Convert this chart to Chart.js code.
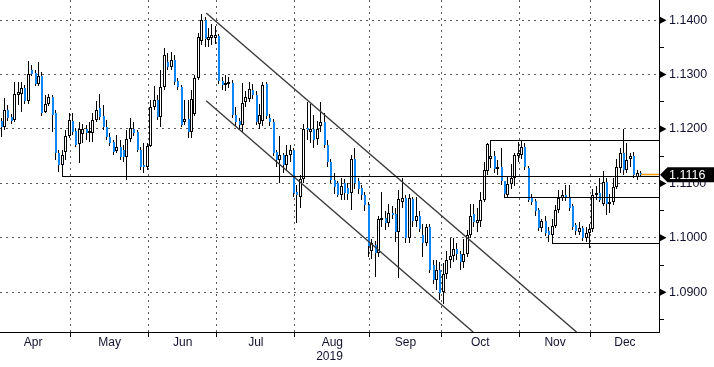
<!DOCTYPE html>
<html><head><meta charset="utf-8">
<script src="https://cdn.jsdelivr.net/npm/chart.js@4.4.1/dist/chart.umd.min.js"></script>
<style>html,body{margin:0;padding:0;background:#fff;}#wrap{width:714px;height:367px;}</style>
</head><body><div id="wrap"><canvas id="c" width="714" height="367"></canvas></div>
<script>
// ---------- DATA (EUR/USD daily, 2019) ----------
const dates = [
'2019-04-02','2019-04-03','2019-04-04','2019-04-05','2019-04-08','2019-04-09','2019-04-10','2019-04-11','2019-04-12','2019-04-15','2019-04-16','2019-04-17','2019-04-18','2019-04-19','2019-04-22','2019-04-23','2019-04-24','2019-04-25','2019-04-26','2019-04-29','2019-04-30',
'2019-05-01','2019-05-02','2019-05-03','2019-05-06','2019-05-07','2019-05-08','2019-05-09','2019-05-10','2019-05-13','2019-05-14','2019-05-15','2019-05-16','2019-05-17','2019-05-20','2019-05-21','2019-05-22','2019-05-23','2019-05-24','2019-05-27','2019-05-28','2019-05-29','2019-05-30','2019-05-31',
'2019-06-03','2019-06-04','2019-06-05','2019-06-06','2019-06-07','2019-06-10','2019-06-11','2019-06-12','2019-06-13','2019-06-14','2019-06-17','2019-06-18','2019-06-19','2019-06-20','2019-06-21','2019-06-24','2019-06-25','2019-06-26','2019-06-27','2019-06-28',
'2019-07-01','2019-07-02','2019-07-03','2019-07-04','2019-07-05','2019-07-08','2019-07-09','2019-07-10','2019-07-11','2019-07-12','2019-07-15','2019-07-16','2019-07-17','2019-07-18','2019-07-19','2019-07-22','2019-07-23','2019-07-24','2019-07-25','2019-07-26','2019-07-29','2019-07-30','2019-07-31',
'2019-08-01','2019-08-02','2019-08-05','2019-08-06','2019-08-07','2019-08-08','2019-08-09','2019-08-12','2019-08-13','2019-08-14','2019-08-15','2019-08-16','2019-08-19','2019-08-20','2019-08-21','2019-08-22','2019-08-23','2019-08-26','2019-08-27','2019-08-28','2019-08-29','2019-08-30',
'2019-09-02','2019-09-03','2019-09-04','2019-09-05','2019-09-06','2019-09-09','2019-09-10','2019-09-11','2019-09-12','2019-09-13','2019-09-16','2019-09-17','2019-09-18','2019-09-19','2019-09-20','2019-09-23','2019-09-24','2019-09-25','2019-09-26','2019-09-27','2019-09-30',
'2019-10-01','2019-10-02','2019-10-03','2019-10-04','2019-10-07','2019-10-08','2019-10-09','2019-10-10','2019-10-11','2019-10-14','2019-10-15','2019-10-16','2019-10-17','2019-10-18','2019-10-21','2019-10-22','2019-10-23','2019-10-24','2019-10-25','2019-10-28','2019-10-29','2019-10-30','2019-10-31',
'2019-11-01','2019-11-04','2019-11-05','2019-11-06','2019-11-07','2019-11-08','2019-11-11','2019-11-12','2019-11-13','2019-11-14','2019-11-15','2019-11-18','2019-11-19','2019-11-20','2019-11-21','2019-11-22','2019-11-25','2019-11-26','2019-11-27','2019-11-28','2019-11-29',
'2019-12-02','2019-12-03','2019-12-04','2019-12-05','2019-12-06','2019-12-09','2019-12-10','2019-12-11','2019-12-12','2019-12-13','2019-12-16','2019-12-17','2019-12-18','2019-12-19','2019-12-20'
];
const open = [
1.1215,1.1203,1.1235,1.1222,1.1217,1.1262,1.1265,1.1276,1.1252,1.1309,1.1303,1.1283,1.1298,1.1231,1.1246,1.1259,1.1230,1.1156,1.1134,1.1158,1.1187,
1.1215,1.1197,1.1173,1.1190,1.1200,1.1193,1.1193,1.1217,1.1239,1.1224,1.1204,1.1186,1.1176,1.1160,1.1167,1.1162,1.1149,1.1182,1.1200,1.1195,1.1162,1.1134,1.1130,
1.1169,1.1240,1.1254,1.1222,1.1277,1.1323,1.1314,1.1327,1.1289,1.1277,1.1213,1.1219,1.1195,1.1228,1.1294,1.1362,1.1400,1.1364,1.1367,1.1368,
1.1370,1.1289,1.1280,1.1282,1.1285,1.1226,1.1215,1.1208,1.1250,1.1256,1.1272,1.1262,1.1210,1.1215,1.1282,1.1220,1.1213,1.1158,1.1143,1.1152,1.1134,1.1152,1.1162,
1.1085,1.1075,1.1108,1.1202,1.1195,1.1200,1.1181,1.1205,1.1213,1.1171,1.1139,1.1106,1.1100,1.1079,1.1100,1.1092,1.1082,1.1145,1.1104,1.1091,1.1078,1.1060,
1.0975,1.0987,1.0972,1.1033,1.1036,1.1028,1.1046,1.1043,1.1010,1.1065,1.1073,1.1000,1.1072,1.1031,1.1041,1.1005,1.0991,1.1020,1.0950,1.0922,1.0940,
1.0901,1.0933,1.0960,1.0966,1.0980,1.0971,1.0955,1.0971,1.1006,1.1044,1.1028,1.1031,1.1069,1.1123,1.1145,1.1151,1.1126,1.1130,1.1104,1.1079,1.1099,1.1110,1.1150,
1.1153,1.1167,1.1128,1.1074,1.1068,1.1051,1.1018,1.1031,1.1012,1.1006,1.1022,1.1051,1.1074,1.1078,1.1075,1.1058,1.1024,1.1011,1.1018,1.1000,1.1009,
1.1016,1.1078,1.1082,1.1062,1.1102,1.1062,1.1066,1.1094,1.1129,1.1155,1.1125,1.1145,1.1150,1.1112,1.1120
];
const high = [
1.1220,1.1257,1.1244,1.1228,1.1287,1.1287,1.1287,1.1281,1.1325,1.1318,1.1309,1.1323,1.1305,1.1263,1.1265,1.1263,1.1235,1.1162,1.1162,1.1198,1.1230,
1.1230,1.1202,1.1213,1.1210,1.1208,1.1213,1.1230,1.1252,1.1265,1.1244,1.1217,1.1193,1.1180,1.1189,1.1180,1.1171,1.1198,1.1220,1.1213,1.1198,1.1166,1.1174,1.1174,
1.1254,1.1279,1.1263,1.1309,1.1349,1.1340,1.1342,1.1336,1.1294,1.1281,1.1254,1.1254,1.1272,1.1300,1.1377,1.1412,1.1405,1.1385,1.1392,1.1390,
1.1375,1.1295,1.1300,1.1295,1.1290,1.1240,1.1220,1.1285,1.1270,1.1286,1.1282,1.1270,1.1245,1.1286,1.1286,1.1228,1.1218,1.1162,1.1188,1.1155,1.1170,1.1171,1.1165,
1.1098,1.1115,1.1210,1.1250,1.1245,1.1225,1.1215,1.1250,1.1230,1.1180,1.1145,1.1120,1.1105,1.1110,1.1108,1.1100,1.1153,1.1165,1.1110,1.1098,1.1085,1.1065,
1.0998,1.0995,1.1040,1.1084,1.1050,1.1062,1.1058,1.1055,1.1087,1.1110,1.1078,1.1080,1.1075,1.1075,1.1050,1.1025,1.1025,1.1025,1.0960,1.0960,1.0955,
1.0953,1.0975,1.1000,1.0999,1.0990,1.0975,1.0998,1.1015,1.1062,1.1062,1.1055,1.1085,1.1140,1.1175,1.1179,1.1160,1.1143,1.1165,1.1105,1.1112,1.1135,1.1156,1.1176,
1.1178,1.1175,1.1132,1.1080,1.1072,1.1055,1.1035,1.1040,1.1020,1.1035,1.1060,1.1088,1.1088,1.1097,1.1097,1.1062,1.1028,1.1030,1.1022,1.1020,1.1025,
1.1090,1.1095,1.1110,1.1122,1.1110,1.1080,1.1110,1.1145,1.1165,1.1200,1.1175,1.1155,1.1158,1.1125,1.1122
];
const low = [
1.1186,1.1198,1.1215,1.1209,1.1213,1.1244,1.1231,1.1246,1.1246,1.1298,1.1279,1.1279,1.1224,1.1230,1.1242,1.1195,1.1143,1.1121,1.1112,1.1143,1.1184,
1.1189,1.1166,1.1138,1.1175,1.1180,1.1176,1.1176,1.1213,1.1217,1.1198,1.1180,1.1169,1.1152,1.1156,1.1143,1.1140,1.1107,1.1176,1.1187,1.1158,1.1125,1.1119,1.1125,
1.1166,1.1235,1.1217,1.1204,1.1272,1.1309,1.1309,1.1281,1.1272,1.1204,1.1208,1.1184,1.1184,1.1224,1.1290,1.1355,1.1350,1.1350,1.1355,1.1356,
1.1282,1.1272,1.1270,1.1275,1.1220,1.1205,1.1200,1.1195,1.1240,1.1250,1.1255,1.1208,1.1200,1.1205,1.1218,1.1205,1.1150,1.1130,1.1101,1.1120,1.1125,1.1140,1.1075,
1.1027,1.1055,1.1100,1.1180,1.1175,1.1165,1.1170,1.1195,1.1165,1.1130,1.1100,1.1080,1.1075,1.1070,1.1070,1.1070,1.1052,1.1090,1.1080,1.1070,1.1050,1.0965,
1.0962,1.0928,1.0965,1.1020,1.1015,1.1020,1.1035,1.0992,1.0927,1.1055,1.0990,1.0990,1.1020,1.1020,1.1010,1.0965,1.0985,1.0935,1.0915,1.0905,1.0885,
1.0879,1.0925,1.0945,1.0955,1.0960,1.0940,1.0945,1.0965,1.1000,1.1020,1.1010,1.1020,1.1065,1.1115,1.1128,1.1120,1.1115,1.1098,1.1074,1.1075,1.1090,1.1095,1.1140,
1.1145,1.1125,1.1065,1.1060,1.1040,1.1012,1.1010,1.1003,1.0992,1.0989,1.1018,1.1045,1.1068,1.1068,1.1050,1.1015,1.1005,1.1005,1.0995,1.0993,1.0981,
1.1010,1.1070,1.1065,1.1058,1.1042,1.1045,1.1060,1.1090,1.1120,1.1115,1.1120,1.1130,1.1110,1.1106,1.1112
];
const close = [
1.1203,1.1235,1.1220,1.1215,1.1265,1.1268,1.1276,1.1252,1.1301,1.1301,1.1283,1.1298,1.1230,1.1246,1.1259,1.1226,1.1156,1.1134,1.1152,1.1187,1.1217,
1.1195,1.1171,1.1200,1.1200,1.1193,1.1197,1.1217,1.1235,1.1222,1.1204,1.1186,1.1174,1.1158,1.1167,1.1149,1.1149,1.1182,1.1202,1.1193,1.1162,1.1130,1.1130,1.1169,
1.1240,1.1254,1.1222,1.1277,1.1336,1.1314,1.1327,1.1287,1.1277,1.1208,1.1219,1.1195,1.1255,1.1294,1.1369,1.1400,1.1365,1.1369,1.1372,1.1372,
1.1289,1.1280,1.1285,1.1286,1.1226,1.1213,1.1208,1.1248,1.1258,1.1274,1.1262,1.1213,1.1225,1.1280,1.1224,1.1213,1.1156,1.1143,1.1152,1.1134,1.1152,1.1162,1.1082,
1.1078,1.1108,1.1200,1.1198,1.1200,1.1180,1.1200,1.1213,1.1171,1.1139,1.1106,1.1093,1.1079,1.1096,1.1083,1.1080,1.1145,1.1100,1.1090,1.1078,1.1060,1.0985,
1.0990,1.0972,1.1034,1.1036,1.1028,1.1046,1.1042,1.1010,1.1071,1.1073,1.1000,1.1073,1.1031,1.1041,1.1017,1.0991,1.1020,1.0941,1.0922,1.0940,1.0899,
1.0933,1.0960,1.0966,1.0979,1.0971,1.0955,1.0971,1.1006,1.1040,1.1029,1.1033,1.1070,1.1125,1.1172,1.1151,1.1126,1.1131,1.1104,1.1081,1.1099,1.1110,1.1153,1.1155,
1.1167,1.1130,1.1070,1.1066,1.1049,1.1018,1.1031,1.1008,1.1006,1.1022,1.1051,1.1074,1.1078,1.1075,1.1055,1.1020,1.1013,1.1018,1.1000,1.1009,1.1016,
1.1078,1.1082,1.1070,1.1102,1.1062,1.1066,1.1094,1.1131,1.1155,1.1125,1.1143,1.1150,1.1115,1.1120,1.1116
];
// y-axis tick values (majors labelled)
const yTicks = [1.085,1.090,1.095,1.100,1.105,1.110,1.115,1.120,1.125,1.130,1.135,1.140];
const yLabelled = [1.090,1.100,1.110,1.120,1.130,1.140];
const monthNames = ['Jan','Feb','Mar','Apr','May','Jun','Jul','Aug','Sep','Oct','Nov','Dec'];
const yearLabel = '2019';
// drawn studies: [startCandleIndex, level]
const supportLine = [19, 1.1112];
const rangeTop = [145, 1.1179];
const rangeMid = [149, 1.1074];
const rangeBottom = [163, 1.0989];
const channelUpper = [[61.3, 1.1413], [170.2, 1.0827]];
const channelLower = [[61.3, 1.1252], [139.8, 1.0827]];

// ---------- BUILD ----------
const X_MIN = 0.68, X_MAX = 194.45, Y_MIN = 1.0827, Y_MAX = 1.1437;
const xs = dates.map((d, k) => k + 1); // trading-day number since 1 Apr 2019
const monthOf = d => +d.slice(5, 7);
const edges = [-0.6];
const labelMonths = [monthOf(dates[0])];
for (let k = 1; k < dates.length; k++) {
  if (monthOf(dates[k]) !== monthOf(dates[k - 1])) { edges.push(xs[k] - 0.6); labelMonths.push(monthOf(dates[k])); }
}
const boundaries = edges.slice(1);
edges.push(X_MAX);
const labelPos = labelMonths.map((m, j) => (edges[j] + edges[j + 1]) / 2);
const xTickDefs = [];
boundaries.forEach(v => xTickDefs.push({ value: v, label: '', b: true }));
labelPos.forEach((v, j) => xTickDefs.push({ value: v, label: monthNames[labelMonths[j] - 1], b: false }));
xTickDefs.sort((a, b) => a.value - b.value);

const wicks = xs.map((x, k) => ({ x, y: [low[k], high[k]] }));
const upBodies = [], downBodies = [];
xs.forEach((x, k) => { (close[k] >= open[k] ? upBodies : downBodies).push({ x, y: [open[k], close[k]] }); });

const isMajor = v => yLabelled.some(m => Math.abs(m - v) < 1e-7);
const lastClose = close[close.length - 1];
const lastX = xs[xs.length - 1];

const hline = (start, color, w) => ({
  type: 'line', data: [{ x: start[0], y: start[1] }, { x: X_MAX, y: start[1] }],
  borderColor: color, borderWidth: w, pointRadius: 0, fill: false, order: 0, snapY: true
});
const sline = (pts) => ({
  type: 'line', data: pts.map(p => ({ x: p[0], y: p[1] })),
  borderColor: '#3a3a3a', borderWidth: 1.4, pointRadius: 0, fill: false, order: 0
});

const FONT = "'Liberation Sans', Arial, sans-serif";
const TXT = '#121230';

// snap elements (positioned by the scales) to whole device pixels for crisp strokes
const snap = {
  id: 'snap',
  beforeDatasetsDraw(chart) {
    chart.data.datasets.forEach((ds, i) => {
      const meta = chart.getDatasetMeta(i);
      if (ds.type === 'bar') {
        meta.data.forEach(el => {
          const cx = Math.floor(el.x);
          el.x = ds.snapOdd ? cx + 0.5 : cx + 1;
          el.y = Math.round(el.y);
          el.base = Math.round(el.base);
          if (Math.abs(el.base - el.y) < 1) el.base = el.y + 1;
        });
      } else if (ds.snapY) {
        meta.data.forEach(p => { p.y = Math.floor(p.y) + 0.5; p.x = Math.round(p.x); });
      }
    });
  }
};

const decor = {
  id: 'decor',
  afterDraw(chart) {
    const ctx = chart.ctx, ys = chart.scales.y, r = chart.chartArea.right;
    ctx.save();
    ctx.fillStyle = '#000';
    yLabelled.forEach(v => {
      const py = ys.getPixelForValue(v);
      ctx.beginPath(); ctx.moveTo(r + 1, py - 3.5); ctx.lineTo(r + 7.5, py); ctx.lineTo(r + 1, py + 3.5); ctx.closePath(); ctx.fill();
    });
    const py = ys.getPixelForValue(lastClose);
    ctx.beginPath();
    ctx.moveTo(r + 1, py); ctx.lineTo(r + 8.5, py - 7.5); ctx.lineTo(chart.width, py - 7.5);
    ctx.lineTo(chart.width, py + 7.5); ctx.lineTo(r + 8.5, py + 7.5); ctx.closePath(); ctx.fill();
    ctx.fillStyle = '#fff'; ctx.font = '12.5px ' + FONT; ctx.textBaseline = 'middle'; ctx.textAlign = 'left';
    ctx.fillText(lastClose.toFixed(4), r + 10, py + 0.5);
    ctx.restore();
  }
};

new Chart(document.getElementById('c'), {
  type: 'bar',
  data: {
    datasets: [
      hline(supportLine, '#000', 1),
      hline(rangeTop, '#000', 1),
      hline(rangeMid, '#000', 1),
      hline(rangeBottom, '#000', 1),
      sline(channelUpper),
      sline(channelLower),
      hline([lastX + 0.3, lastClose], '#f29b00', 1.5),
      { type: 'bar', data: wicks, backgroundColor: '#000', borderWidth: 0, barThickness: 1, grouped: false, order: 3, inflateAmount: 0, snapOdd: true },
      { type: 'bar', data: upBodies, backgroundColor: '#fff', borderColor: '#000', borderWidth: 1, borderSkipped: false, barThickness: 3, minBarLength: 2, grouped: false, order: 2, inflateAmount: 0, snapOdd: true },
      { type: 'bar', data: downBodies, backgroundColor: '#0d86f7', borderWidth: 0, barThickness: 2, minBarLength: 1.5, grouped: false, order: 2, inflateAmount: 0, snapOdd: false }
    ]
  },
  options: {
    responsive: false, animation: false, devicePixelRatio: 1,
    layout: { padding: 0 },
    plugins: { legend: { display: false }, tooltip: { enabled: false } },
    scales: {
      x: {
        type: 'linear', position: 'bottom', min: X_MIN, max: X_MAX, offset: false, bounds: 'data',
        afterBuildTicks: s => { s.ticks = xTickDefs.map(t => ({ value: t.value })); },
        afterFit: s => { s.height = 35; s.paddingLeft = 0; s.paddingRight = 0; },
        grid: {
          offset: false, drawOnChartArea: true, drawTicks: true, tickLength: 5, lineWidth: 1, tickWidth: 1,
          color: c => (c.tick && xTickDefs[c.index] && xTickDefs[c.index].b) ? '#5a5a5a' : 'rgba(0,0,0,0)',
          tickColor: c => (c.tick && xTickDefs[c.index] && xTickDefs[c.index].b) ? '#000' : 'rgba(0,0,0,0)',
          tickBorderDash: []
        },
        border: { display: true, color: '#000', width: 1, dash: [2, 4] },
        ticks: {
          autoSkip: false, maxRotation: 0, minRotation: 0, padding: 0, color: TXT,
          font: { family: FONT, size: 12, lineHeight: 1 },
          callback: (v, i) => xTickDefs[i] ? xTickDefs[i].label : ''
        },
        title: { display: true, text: yearLabel, color: TXT, font: { family: FONT, size: 12, lineHeight: 1.2 }, padding: { top: 0, bottom: 3 } }
      },
      y: {
        type: 'linear', position: 'right', min: Y_MIN, max: Y_MAX, bounds: 'data',
        afterBuildTicks: s => { s.ticks = yTicks.map(v => ({ value: v })); },
        afterFit: s => { s.width = 55; s.paddingTop = 0; s.paddingBottom = 0; },
        grid: {
          drawOnChartArea: true, drawTicks: true, tickLength: 5, lineWidth: 1, tickWidth: 1,
          color: c => (c.tick && isMajor(c.tick.value)) ? '#5a5a5a' : 'rgba(0,0,0,0)',
          tickColor: c => (c.tick && !isMajor(c.tick.value)) ? '#000' : 'rgba(0,0,0,0)',
          tickBorderDash: []
        },
        border: { display: true, color: '#000', width: 1, dash: [2, 4] },
        ticks: {
          autoSkip: false, padding: 5, color: TXT,
          font: { family: FONT, size: 12.5 },
          callback: v => isMajor(v) ? v.toFixed(4) : ''
        }
      }
    }
  },
  plugins: [snap, decor]
});
</script></body></html>
